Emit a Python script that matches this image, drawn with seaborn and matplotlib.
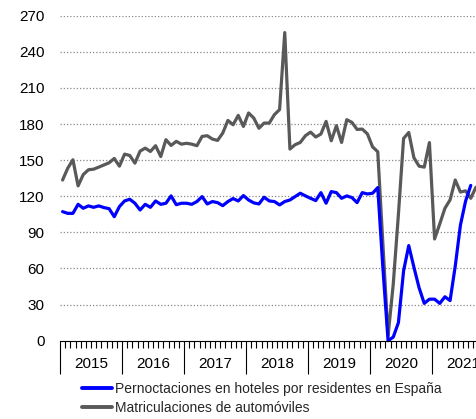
import numpy as np
import pandas as pd
import matplotlib
matplotlib.use("Agg")
import matplotlib.pyplot as plt
import matplotlib.transforms as mtransforms
import seaborn as sns

# ---------------- data (monthly index, Jan 2015 = month 0) ----------------
years = ["2015", "2016", "2017", "2018", "2019", "2020", "2021"]
series_names = ["Pernoctaciones en hoteles por residentes en España",
                "Matriculaciones de automóviles"]

pernoctaciones = [
    107.2, 105.8, 105.8, 113.3, 110.0, 112.0, 110.8, 112.0, 110.6, 109.7, 103.0, 111.4,
    116.1, 117.5, 114.2, 108.6, 113.3, 110.8, 116.1, 113.3, 114.2, 120.3, 113.0, 114.2,
    114.2, 113.3, 115.6, 119.7, 113.6, 115.6, 114.7, 112.2, 115.6, 118.1, 116.1, 120.6,
    116.9, 114.5, 113.6, 119.2, 116.1, 115.6, 112.8, 115.6, 116.9, 119.7, 122.5, 120.3,
    118.3, 116.4, 123.0, 114.2, 123.9, 123.0, 118.3, 120.3, 118.9, 114.7, 123.0, 121.9,
    122.5, 127.2, 60.0, 0.0, 3.0, 15.0, 58.0, 79.0, 61.0, 44.0, 31.0, 34.5,
    34.5, 31.0, 36.5, 33.3, 62.0, 96.0, 116.0, 129.0,
]

matriculaciones = [
    133.5, 143.3, 150.3, 128.6, 138.0, 142.0, 142.5, 144.2, 146.0, 147.8, 151.4, 145.0,
    155.0, 153.9, 147.5, 157.5, 160.0, 157.2, 162.0, 153.0, 167.0, 162.2, 165.6, 163.3,
    164.0, 163.3, 162.0, 169.7, 170.3, 167.5, 166.4, 172.5, 183.0, 179.4, 187.2, 178.0,
    189.2, 185.0, 176.5, 180.8, 180.8, 187.8, 192.0, 256.0, 159.2, 162.8, 164.7, 170.3,
    173.3, 169.2, 171.7, 182.2, 166.1, 178.6, 164.7, 183.6, 181.4, 175.5, 175.8, 171.8,
    161.0, 157.0, 80.0, 4.0, 47.0, 105.0, 168.0, 173.0, 152.0, 145.0, 144.2, 164.6,
    84.5, 97.0, 110.0, 117.0, 133.5, 123.5, 124.5, 118.3, 127.5,
]

y_ticks = [0, 30, 60, 90, 120, 150, 180, 210, 240, 270]

# ---------------- build long table ----------------
df = pd.concat([
    pd.DataFrame({"mes": np.arange(len(pernoctaciones)), "valor": pernoctaciones,
                  "serie": series_names[0]}),
    pd.DataFrame({"mes": np.arange(len(matriculaciones)), "valor": matriculaciones,
                  "serie": series_names[1]}),
], ignore_index=True)

sns.set_theme(style="white")
plt.rcParams["font.family"] = ["Liberation Sans", "DejaVu Sans"]

W, H = 477, 419
fig = plt.figure(figsize=(W / 100, H / 100), dpi=100)
# axes spans x: 60px -> 494px (cropped at figure edge), y: 15.7px -> 340.7px
ax = fig.add_axes([60 / W, (H - 340.7) / H, (494 - 60) / W, 325 / H])

palette = {series_names[0]: "#0000ff", series_names[1]: "#595959"}
sns.lineplot(data=df, x="mes", y="valor", hue="serie", hue_order=series_names[::-1],
             palette=palette, linewidth=2.3, ax=ax, legend=True)
for ln in ax.lines:
    ln.set_clip_on(False)
    ln.set_solid_joinstyle("round")

n_years = len(years)
ax.set_xlim(-0.5, 12 * n_years - 0.5)
ax.set_ylim(0, 270)

# grid
ax.set_yticks(y_ticks)
ax.set_yticklabels([str(v) for v in y_ticks], fontsize=11, color="black")
ax.tick_params(axis="y", length=0, pad=11)
for v in y_ticks[1:]:
    ax.axhline(v, color="#8a8a8a", linewidth=0.9, linestyle=(0, (1, 1.6)), zorder=0)

# spines
for s in ["left", "right", "top"]:
    ax.spines[s].set_visible(False)
ax.spines["bottom"].set_color("black")
ax.spines["bottom"].set_linewidth(0.8)

# x ticks: long at year boundaries, short at month boundaries
ax.set_xticks([12 * k - 0.5 for k in range(n_years + 1)])
ax.set_xticklabels([])
ax.set_xticks(np.arange(-0.5, 12 * n_years, 1.0), minor=True)
ax.tick_params(axis="x", which="major", direction="out", length=23.5, width=0.8,
               color="black", bottom=True)
ax.tick_params(axis="x", which="minor", direction="out", length=5, width=0.8,
               color="black", bottom=True)
ax.set_xlabel("")
ax.set_ylabel("")

trans = mtransforms.blended_transform_factory(ax.transData, ax.transAxes)
for k, yr in enumerate(years):
    ax.text(12 * k + 5.5, -23.5 / 325, yr, transform=trans, ha="center", va="center",
            fontsize=11, color="black")

# legend below
handles, labels = ax.get_legend_handles_labels()
ax.get_legend().remove()
order = [labels.index(n) for n in series_names]
handles = [handles[i] for i in order]
labels = [labels[i] for i in order]
for h in handles:
    h.set_linewidth(2.8)
fig.legend(handles, labels, loc="upper left",
           bbox_to_anchor=(82 / W, (H - 381.5) / H), frameon=False, fontsize=10,
           handlelength=2.15, handletextpad=0.2, labelspacing=0.42,
           borderpad=0, borderaxespad=0)

fig.savefig("out.png", dpi=100)
